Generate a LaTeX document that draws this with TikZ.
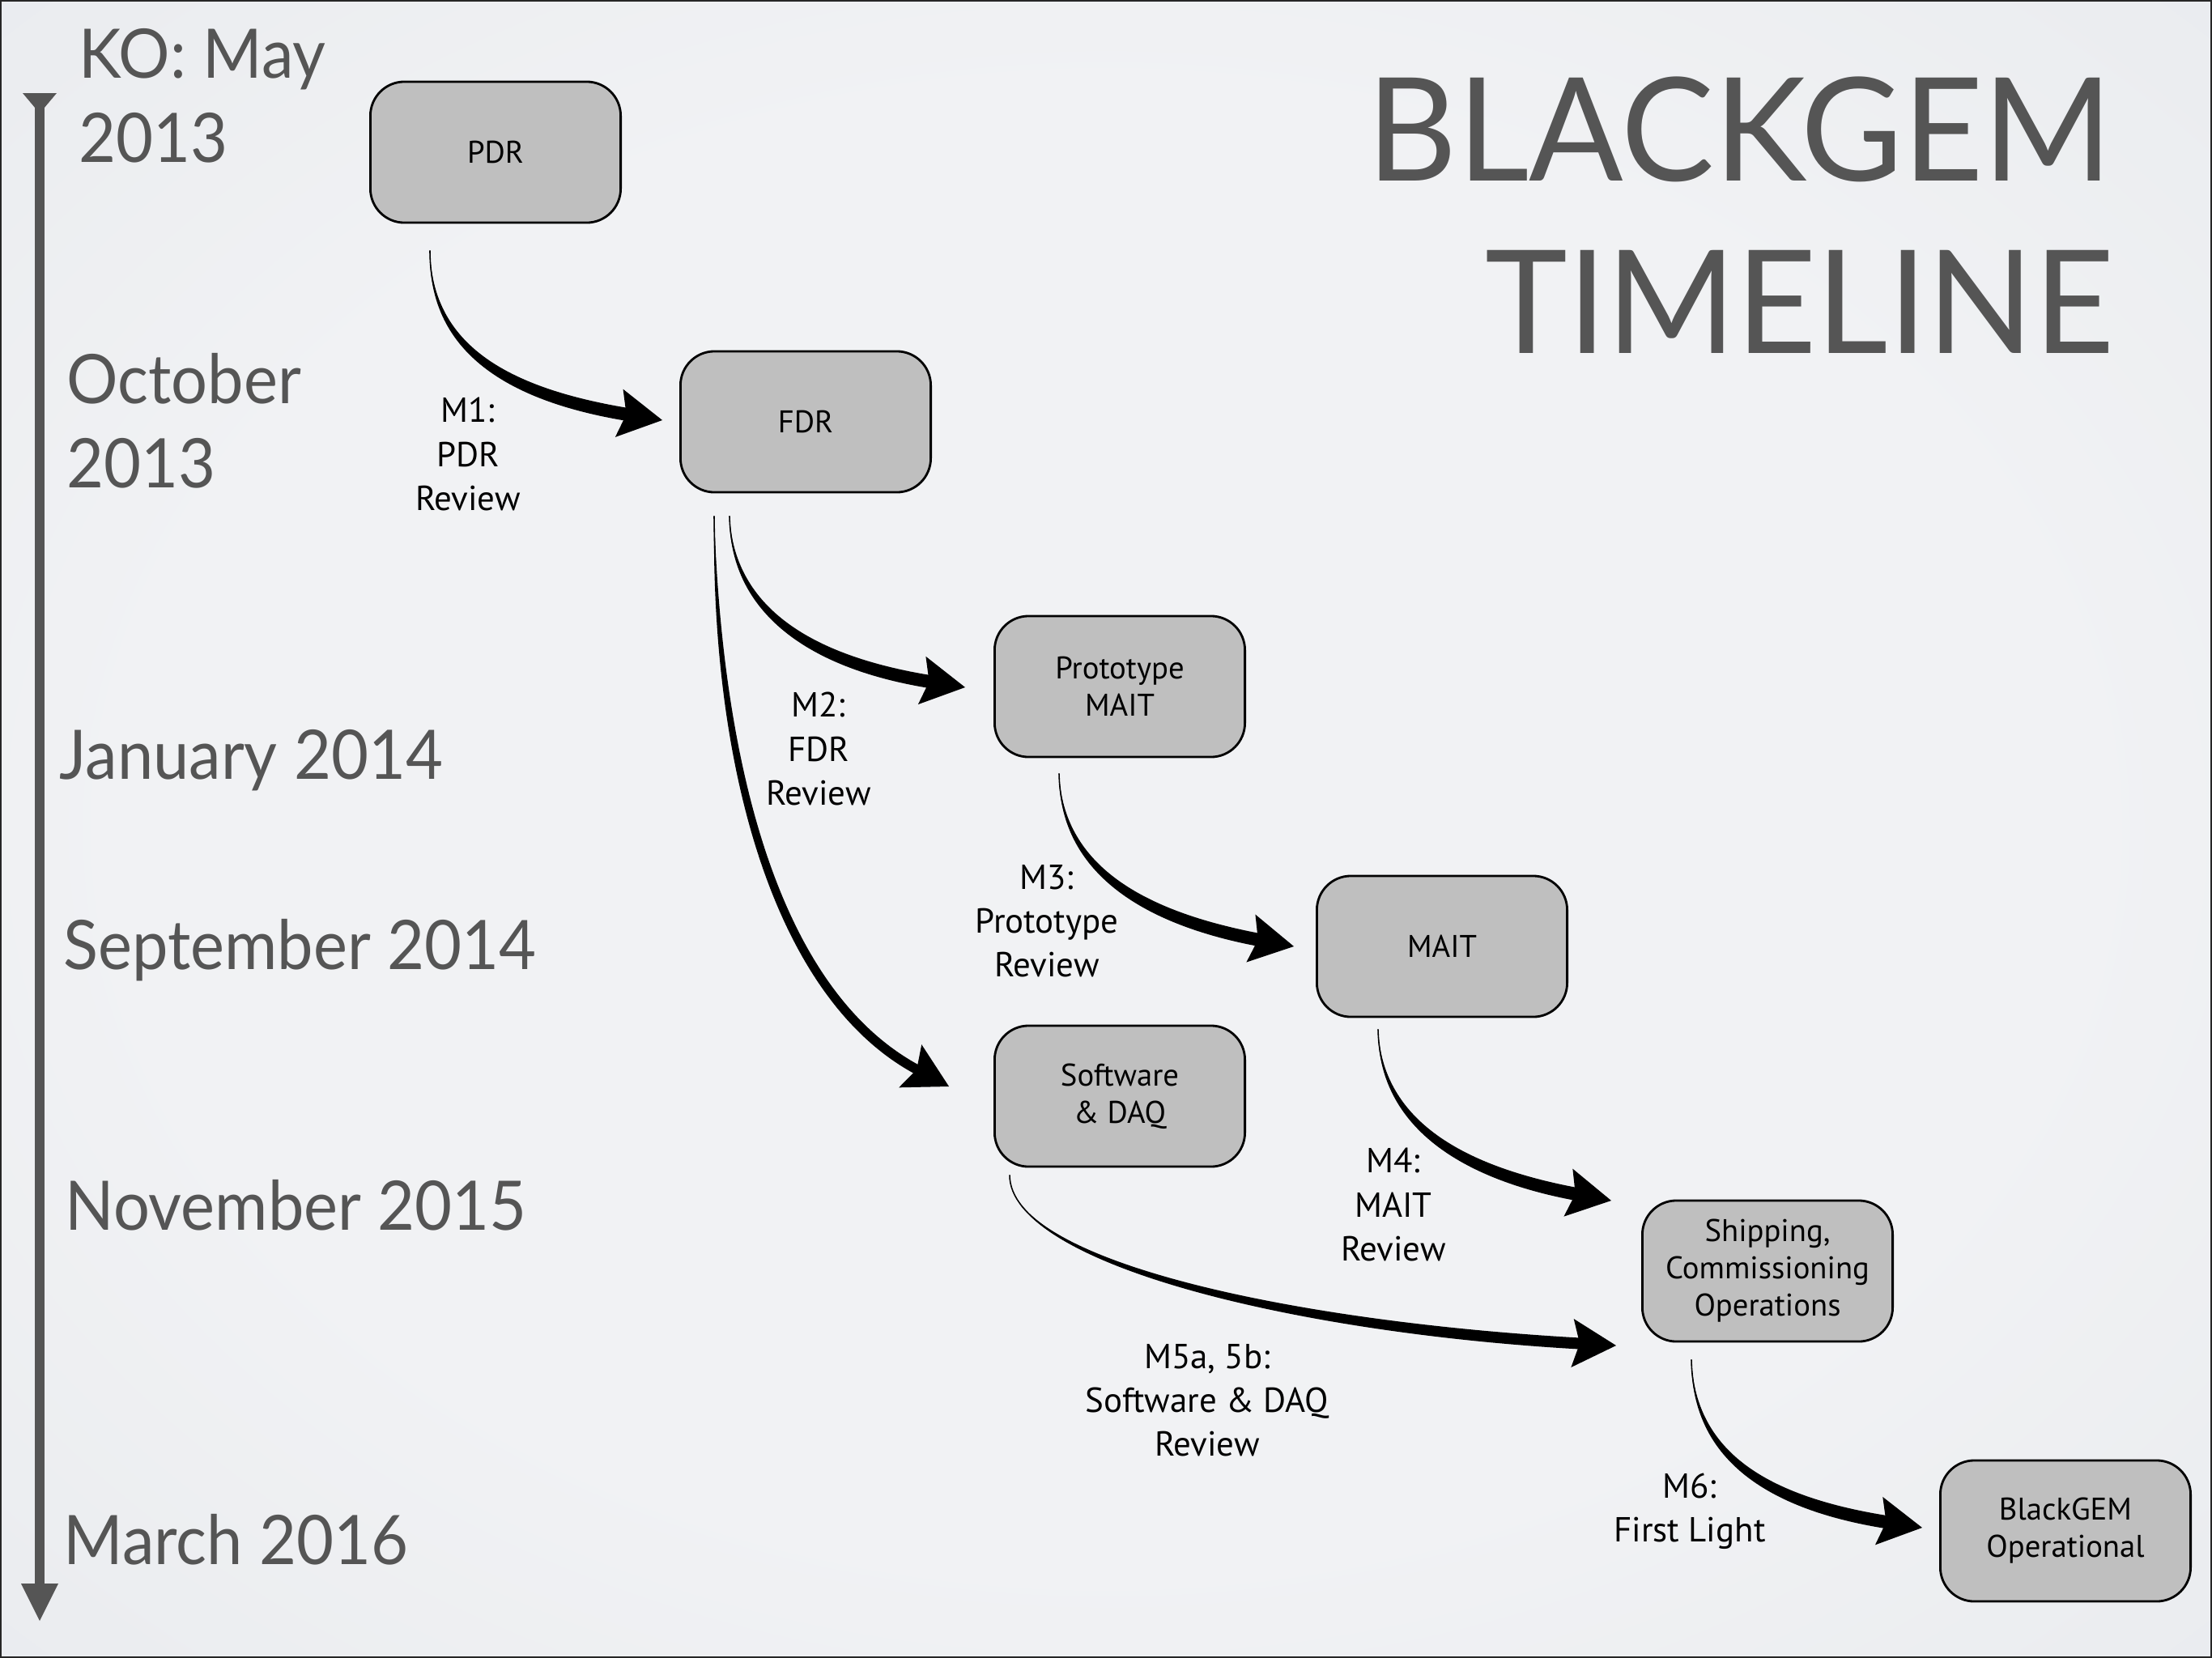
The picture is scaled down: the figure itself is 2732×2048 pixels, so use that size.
\documentclass[tikz,border=0pt]{standalone}
\usepackage{fontspec}
\setmainfont{PT Sans}
\newfontfamily\gilltl{Lato}[FakeStretch=0.94]
\newfontfamily\gillttl{Lato}[FakeStretch=0.97]
\usetikzlibrary{calc}
\definecolor{bgouter}{HTML}{D7DCE3}
\definecolor{bginner}{HTML}{F1F2F4}
\definecolor{tlgray}{HTML}{555555}
\definecolor{boxgray}{HTML}{BFBFBF}
\pgfdeclareradialshading{bgshade}{\pgfpoint{0bp}{0bp}}{color(0bp)=(bginner); color(22bp)=(bginner); color(72bp)=(bgouter)}
% #1 start, #2 control 1, #3 control 2, #4 tip, #5 half width at end, #6 half width at control 1, #7 prefix
\newcommand\tarrow[7]{%
  \coordinate (#7e) at ($(#4)!0.42cm!(#3)$);
  \coordinate (#7b) at ($(#4)!0.54cm!(#3)$);
  \fill (#1) .. controls ($(#2)!#6!90:(#3)$) and ($(#3)!#5!90:(#7e)$) .. ($(#7e)!#5!-90:(#3)$)
     -- ($(#7e)!#5!90:(#3)$) .. controls ($(#3)!#5!-90:(#7e)$) and ($(#2)!#6!-90:(#3)$) .. (#1) -- cycle;
  \draw[line width=0.45pt] (#1) .. controls (#2) and (#3) .. (#7e);
  \fill (#4) -- ($(#7b)!0.30cm!-90:(#3)$) -- ($(#4)!0.45cm!(#3)$) -- ($(#7b)!0.30cm!90:(#3)$) -- cycle;
}
\begin{document}
\begin{tikzpicture}[x=0.01cm,y=-0.01cm,
  box/.style={draw=black, line width=0.8pt, fill=boxgray, rounded corners=0.42cm,
    minimum width=3.09cm, minimum height=1.74cm, align=center,
    font=\fontsize{11}{13.1}\selectfont, inner sep=0pt},
  lbl/.style={align=center, font=\fontsize{12.2}{15.4}\selectfont, inner sep=0pt},
  tl/.style={anchor=base west, inner sep=0pt, text=tlgray, font=\gilltl\fontsize{24}{30}\selectfont},
  ttl/.style={anchor=base east, inner sep=0pt, text=tlgray, font=\gillttl\fontsize{50.5}{60}\selectfont}]
\useasboundingbox (0,0) rectangle (2732,2048);
\fill[bgouter] (0,0) rectangle (2732,2048);
\shade[shading=bgshade] (0,0) rectangle (2732,2048);
\draw[line width=1.2pt, black!85] (0,0) rectangle (2732,2048);

% timeline arrow
\draw[tlgray, line width=0.11cm] (49,125) -- (49,1962);
\fill[tlgray] (28,115) -- (70,115) -- (49,140) -- cycle;
\fill[tlgray] (26,1956) -- (72,1956) -- (49,2002) -- cycle;

% timeline labels
\node[tl] (ko1) at (97,96) {KO: May};
\node[tl] (ko2) at (97,200) {2013};
\node[tl] (oct1) at (82,498) {October};
\node[tl] (oct2) at (82,602) {2013};
\node[tl] (jan) at (73,962) {January 2014};
\node[tl] (sep) at (78,1197) {September 2014};
\node[tl] (nov) at (80,1519) {November 2015};
\node[tl] (mar) at (78,1932) {March 2016};

% title
\node[ttl] (t1) at (2610,223) {BLACKGEM};
\node[ttl] (t2) at (2612,436) {TIMELINE};

% boxes
\node[box] (pdr) at (612,188) {PDR};
\node[box] (fdr) at (995,521) {FDR};
\node[box] (proto) at (1383,848) {Prototype\\MAIT};
\node[box] (mait) at (1781,1169) {MAIT};
\node[box] (sw) at (1383,1354) {Software\\\& DAQ};
\node[box] (ship) at (2183,1570) {Shipping,\\Commissioning\\Operations};
\node[box] (op) at (2551,1891) {BlackGEM\\Operational};

% milestone labels
\node[lbl] (l1) at (578,561) {M1:\\PDR\\Review};
\node[lbl] (l2) at (1011,925) {M2:\\FDR\\Review};
\node[lbl] (l3) at (1293,1138) {M3:\\Prototype\\Review};
\node[lbl] (l4) at (1721,1488) {M4:\\MAIT\\Review};
\node[lbl] (l5) at (1491,1730) {M5a, 5b:\\Software \& DAQ\\Review};
\node[lbl] (l6) at (2087,1867) {M6:\\First Light};

% connector end points and controls
\coordinate (m1s) at ($(pdr.south)+(-81,33)$);
\coordinate (m1t) at ($(fdr.west)+(-21,-2)$);
\coordinate (m1a) at (531,420);
\coordinate (m1c) at (610,485);

\coordinate (m2s) at ($(fdr.south)+(-94,28)$);
\coordinate (m2t) at ($(proto.west)+(-35,1)$);
\coordinate (m2a) at (903,740);
\coordinate (m2c) at (980,815);

\coordinate (mxs) at ($(fdr.south)+(-113,28)$);
\coordinate (mxt) at ($(sw.west)+(-55,-12)$);
\coordinate (mxa) at (885,950);
\coordinate (mxc) at (960,1230);

\coordinate (m3s) at ($(proto.south)+(-75,19)$);
\coordinate (m3t) at ($(mait.west)+(-27,0)$);
\coordinate (m3a) at (1310,1060);
\coordinate (m3c) at (1390,1130);

\coordinate (m4s) at ($(mait.south)+(-79,14)$);
\coordinate (m4t) at ($(ship.west)+(-37,-87)$);
\coordinate (m4a) at (1704,1375);
\coordinate (m4c) at (1785,1445);

\coordinate (m5s) at ($(sw.south)+(-136,9)$);
\coordinate (m5t) at ($(ship.west)+(-31,92)$);
\coordinate (m5a) at (1247,1560);
\coordinate (m5c) at (1600,1640);

\coordinate (m6s) at ($(ship.south)+(-94,21)$);
\coordinate (m6t) at ($(op.west)+(-21,-4)$);
\coordinate (m6a) at (2091,1790);
\coordinate (m6c) at (2170,1855);

\tarrow{m1s}{m1a}{m1c}{m1t}{0.08cm}{0.04cm}{a1}
\tarrow{m2s}{m2a}{m2c}{m2t}{0.08cm}{0.04cm}{a2}
\tarrow{mxs}{mxa}{mxc}{mxt}{0.06cm}{0.075cm}{ax}
\tarrow{m3s}{m3a}{m3c}{m3t}{0.08cm}{0.04cm}{a3}
\tarrow{m4s}{m4a}{m4c}{m4t}{0.08cm}{0.04cm}{a4}
\tarrow{m5s}{m5a}{m5c}{m5t}{0.07cm}{0.015cm}{a5}
\tarrow{m6s}{m6a}{m6c}{m6t}{0.08cm}{0.04cm}{a6}
\end{tikzpicture}
\end{document}
